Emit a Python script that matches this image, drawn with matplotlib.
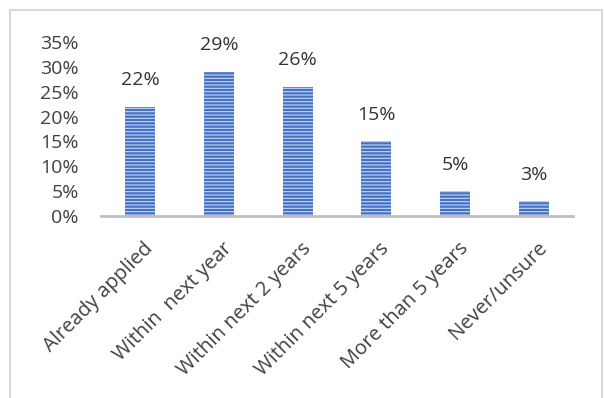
import matplotlib
matplotlib.use('Agg')
import matplotlib.pyplot as plt
import matplotlib.transforms as mtransforms
from matplotlib.patches import Rectangle

# dados
categories = ["Already applied", "Within  next year", "Within next 2 years",
              "Within next 5 years", "More than 5 years", "Never/unsure"]
values = [22, 29, 26, 15, 5, 3]
yticks = [0, 5, 10, 15, 20, 25, 30, 35]

plt.rcParams['font.family'] = ['Open Sans', 'DejaVu Sans']
plt.rcParams['hatch.color'] = '#C8D8F2'
plt.rcParams['hatch.linewidth'] = 0.8

fig = plt.figure(figsize=(6.04, 3.98), dpi=100)
ax = fig.add_axes([101 / 604, 1 - 216 / 398, 472 / 604, 174 / 398])

x = list(range(len(categories)))
ax.bar(x, values, width=0.38, color='#4472C4', hatch='-----', linewidth=0, zorder=2)

for xi, v in zip(x, values):
    ax.text(xi, v + 3.5, f"{v}%", ha='center', va='bottom', fontsize=14, color='#333333')

ax.set_xlim(-0.5, len(categories) - 0.5)
ax.set_ylim(0, 35)
ax.set_yticks(yticks)
ax.set_yticklabels([f"{t}%" for t in yticks], fontsize=14, color='#404040')
ax.set_xticks(x)
ax.set_xticklabels(categories, rotation=45, ha='right', rotation_mode='anchor',
                   fontsize=14.5, color='#404040')
ax.tick_params(axis='y', length=0, pad=16)
ax.tick_params(axis='x', length=0, pad=16)

# desloca um pouco os rótulos do eixo x para a direita
offset = mtransforms.ScaledTranslation(3 / 100, 0, fig.dpi_scale_trans)
for lbl in ax.get_xticklabels():
    lbl.set_transform(lbl.get_transform() + offset)

for s in ['top', 'right', 'left']:
    ax.spines[s].set_visible(False)
ax.spines['bottom'].set_color('#BFBFBF')
ax.spines['bottom'].set_linewidth(2)
ax.spines['bottom'].set_zorder(3)

# borda do gráfico
fig.patches.append(Rectangle((10 / 604, -0.05), 592 / 604, 1 - 10 / 398 + 0.05,
                             transform=fig.transFigure, fill=False,
                             edgecolor='#D9D9D9', linewidth=1.5))

fig.savefig('out.png', dpi=100)
